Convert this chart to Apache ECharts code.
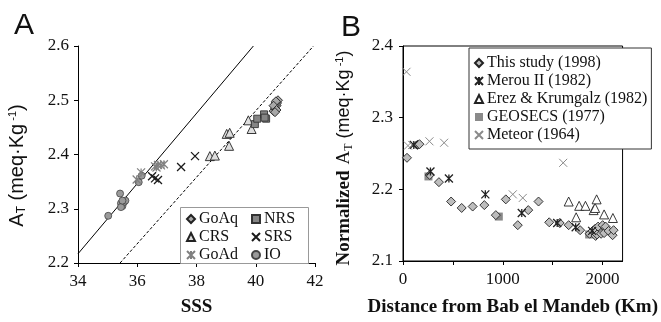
<!DOCTYPE html>
<html>
<head>
<meta charset="utf-8">
<script src="https://cdn.jsdelivr.net/npm/echarts@6/dist/echarts.min.js"></script>
<style>
html, body { margin: 0; padding: 0; background: #fff; }
#chart { width: 661px; height: 322px; }
</style>
</head>
<body>
<div id="chart"></div>
<script>
// ---- panel A : A_T against sea surface salinity ----
var goAq = [[40.6, 2.48], [40.65, 2.485], [40.7, 2.49], [40.72, 2.495], [40.75, 2.5], [40.68, 2.498], [40.6, 2.49], [40.7, 2.482], [40.65, 2.478]];
var nrs = [[39.97, 2.456], [40.05, 2.466], [40.28, 2.474], [40.35, 2.466], [40.3, 2.468], [40.65, 2.49], [40.7, 2.495]];
var crs = [[38.45, 2.397], [38.62, 2.398], [39.02, 2.438], [39.12, 2.44], [39.1, 2.416], [39.75, 2.463], [39.86, 2.447]];
var srs = [[36.5, 2.36], [36.6, 2.356], [36.7, 2.353], [37.48, 2.377], [37.95, 2.397]];
var goAd = [[35.98, 2.354], [36.13, 2.367], [36.6, 2.378], [36.65, 2.376], [36.7, 2.381], [36.8, 2.38], [36.9, 2.382]];
var io = [[35.02, 2.287], [35.42, 2.328], [35.45, 2.31], [35.5, 2.305], [35.55, 2.312], [35.6, 2.315], [35.45, 2.303], [35.5, 2.315], [36.05, 2.349], [36.15, 2.361]];
var solidLine = [[34, 2.217], [39.92, 2.6]];
var dashedLine = [[35.42, 2.2], [41.95, 2.6]];
var sssTicks = [34, 36, 38, 40, 42];
var atTicksA = [2.2, 2.3, 2.4, 2.5, 2.6];

// ---- panel B : normalized A_T against distance ----
var thisStudy = [[40, 2.244], [145, 2.262], [165, 2.263], [268, 2.22], [360, 2.21], [482, 2.183], [588, 2.174], [698, 2.176], [815, 2.178], [930, 2.164], [1030, 2.186], [1150, 2.15], [1255, 2.171], [1358, 2.183], [1465, 2.154], [1570, 2.153], [1660, 2.15], [1775, 2.143], [1870, 2.138], [1900, 2.142], [1925, 2.145], [1930, 2.135], [1945, 2.137], [1955, 2.148], [1985, 2.138], [2000, 2.15], [2015, 2.139], [2030, 2.148], [2060, 2.142], [2100, 2.136], [2110, 2.143]];
var merou = [[108, 2.262], [275, 2.225], [460, 2.215], [825, 2.193], [1190, 2.167], [1545, 2.153], [1730, 2.147], [1895, 2.142]];
var erez = [[1660, 2.183], [1735, 2.161], [1765, 2.177], [1828, 2.177], [1910, 2.171], [1925, 2.174], [1940, 2.186], [2015, 2.165], [2103, 2.16]];
var geosecs = [[255, 2.218], [960, 2.162], [1865, 2.137]];
var meteor = [[35, 2.364], [50, 2.261], [92, 2.262], [265, 2.267], [412, 2.265], [1100, 2.193], [1200, 2.188], [1605, 2.237]];
var distTicks = [0, 500, 1000, 1500, 2000];
var distLabels = [0, 1000, 2000];

var crossPath = 'path://M0,0L10,10M10,0L0,10';
var starPath = 'path://M0,0L10,10M10,0L0,10M5,0L5,10';

var serif = 'Liberation Serif';
var sans = 'Liberation Sans';

function dots(name, data, grid, symbol, size, fill, stroke, lw) {
    return {
        name: name,
        type: 'scatter',
        xAxisIndex: grid,
        yAxisIndex: grid,
        data: data,
        symbol: symbol,
        symbolSize: size,
        itemStyle: {color: fill, borderColor: stroke, borderWidth: lw, opacity: 1},
        emphasis: {disabled: true},
        z: 3
    };
}

function refLine(data, type) {
    return {
        type: 'line',
        xAxisIndex: 0,
        yAxisIndex: 0,
        data: data,
        symbol: 'none',
        silent: true,
        lineStyle: {color: '#000', width: 1, type: type},
        z: 2
    };
}

// tick labels go through rich text so the serif face is surely used
function numLabel(digits) {
    return function (v) {
        return '{n|' + (digits ? v.toFixed(digits) : String(v)) + '}';
    };
}
var numRich = {n: {fontFamily: serif, fontSize: 17, color: '#111'}};

var axisLine = {lineStyle: {color: '#000', width: 1}};

var option = {
    animation: false,
    backgroundColor: '#fff',
    textStyle: {fontFamily: serif},
    title: [
        {text: 'A', left: 9, top: 6, textStyle: {fontFamily: sans, fontSize: 30, fontWeight: 'normal', color: '#111'}},
        {text: 'B', left: 336, top: 8, textStyle: {fontFamily: sans, fontSize: 30, fontWeight: 'normal', color: '#111'}}
    ],
    grid: [
        {left: 78, top: 46, width: 237, height: 221},
        {left: 403, top: 46, width: 248, height: 221, show: true, borderColor: '#000', borderWidth: 1}
    ],
    xAxis: [
        {
            gridIndex: 0, type: 'value', min: 34, max: 42, interval: 2,
            name: 'SSS', nameLocation: 'middle', nameGap: 35,
            nameTextStyle: {fontFamily: serif, fontSize: 19, fontWeight: 'bold', color: '#111'},
            axisLine: axisLine,
            axisTick: {length: 4, lineStyle: {color: '#000', width: 1}, customValues: sssTicks},
            axisLabel: {margin: 10, customValues: sssTicks, formatter: numLabel(0), rich: numRich},
            splitLine: {show: false}
        },
        {
            gridIndex: 1, type: 'value', min: 0, max: 2200,
            name: 'Distance from Bab el Mandeb (Km)', nameLocation: 'middle', nameGap: 37,
            nameTextStyle: {fontFamily: serif, fontSize: 19, fontWeight: 'bold', color: '#111'},
            axisLine: axisLine,
            axisTick: {length: 4, lineStyle: {color: '#000', width: 1}, customValues: distTicks},
            axisLabel: {margin: 10, customValues: distLabels, formatter: numLabel(0), rich: numRich},
            splitLine: {show: false}
        }
    ],
    yAxis: [
        {
            gridIndex: 0, type: 'value', min: 2.2, max: 2.6,
            name: '{a|A}{s|T}{a| (meq·Kg}{p| -1}{a|)}', nameLocation: 'middle', nameGap: 50,
            nameTextStyle: {
                color: '#111',
                padding: [0, 22, 0, 0],
                rich: {
                    a: {fontFamily: sans, fontSize: 20, color: '#111'},
                    s: {fontFamily: sans, fontSize: 12, color: '#111', verticalAlign: 'bottom', padding: [9, 0, 0, 0]},
                    p: {fontFamily: sans, fontSize: 11, color: '#111', verticalAlign: 'top', padding: [0, 0, 7, 0]}
                }
            },
            axisLine: axisLine,
            axisTick: {length: 4, lineStyle: {color: '#000', width: 1}, customValues: atTicksA},
            axisLabel: {margin: 9, customValues: atTicksA, formatter: numLabel(1), rich: numRich},
            splitLine: {show: false}
        },
        {
            gridIndex: 1, type: 'value', min: 2.1, max: 2.4, interval: 0.1,
            name: '{b|Normalized}  {t|A}{s|T}{a| (meq·Kg}{p| -1}{a|)}', nameLocation: 'middle', nameGap: 48,
            nameTextStyle: {
                color: '#111',
                padding: [0, 9, 0, 0],
                rich: {
                    b: {fontFamily: serif, fontSize: 19, fontWeight: 'bold', color: '#111'},
                    t: {fontFamily: serif, fontSize: 19, color: '#111'},
                    a: {fontFamily: sans, fontSize: 18, color: '#111'},
                    s: {fontFamily: serif, fontSize: 12, color: '#111', verticalAlign: 'bottom', padding: [9, 0, 0, 0]},
                    p: {fontFamily: sans, fontSize: 11, color: '#111', verticalAlign: 'top', padding: [0, 0, 7, 0]}
                }
            },
            axisLine: axisLine,
            axisTick: {length: 4, lineStyle: {color: '#000', width: 1}},
            axisLabel: {margin: 10, formatter: numLabel(1), rich: numRich},
            splitLine: {show: false}
        }
    ],
    legend: [
        {
            data: ['GoAq', 'CRS', 'GoAd'], orient: 'vertical', left: 186, top: 211,
            itemWidth: 8, itemHeight: 8, itemGap: 2, padding: 0, selectedMode: false,
            textStyle: {fontFamily: serif, fontSize: 16, color: '#111', padding: [0, 0, 0, -1]}
        },
        {
            data: ['NRS', 'SRS', 'IO'], orient: 'vertical', left: 251, top: 211,
            itemWidth: 8, itemHeight: 8, itemGap: 2, padding: 0, selectedMode: false,
            textStyle: {fontFamily: serif, fontSize: 16, color: '#111', padding: [0, 0, 0, -1]}
        },
        {
            data: ['This study (1998)', 'Merou II (1982)', 'Erez & Krumgalz (1982)', 'GEOSECS (1977)', 'Meteor (1964)'],
            orient: 'vertical', left: 469, top: 48,
            itemWidth: 8, itemHeight: 8, itemGap: 2, padding: [7, 4, 6, 5], selectedMode: false,
            borderColor: '#333', borderWidth: 1, backgroundColor: '#fff',
            textStyle: {fontFamily: serif, fontSize: 16, color: '#111', padding: [0, 0, 0, -1]}
        }
    ],
    graphic: [
        {type: 'rect', left: 180, top: 207, shape: {width: 128, height: 56}, style: {fill: '#fff', stroke: '#999', lineWidth: 1}, z: 1}
    ],
    series: [
        refLine(solidLine, 'solid'),
        refLine(dashedLine, [3, 2]),
        dots('IO', io, 0, 'circle', 7, '#9a9a9a', '#444', 0.8),
        dots('GoAd', goAd, 0, starPath, 8, '#808080', '#808080', 1.2),
        dots('SRS', srs, 0, crossPath, 8, '#1a1a1a', '#1a1a1a', 1.3),
        dots('CRS', crs, 0, 'triangle', 9, '#dedede', '#222', 0.9),
        dots('NRS', nrs, 0, 'rect', 7, '#858585', '#333', 0.9),
        dots('GoAq', goAq, 0, 'diamond', 9, '#a8a8a8', '#222', 0.9),

        dots('Meteor (1964)', meteor, 1, crossPath, 8, '#8a8a8a', '#8a8a8a', 1),
        dots('Erez & Krumgalz (1982)', erez, 1, 'triangle', 9, '#fff', '#222', 0.9),
        dots('GEOSECS (1977)', geosecs, 1, 'rect', 8, '#8a8a8a', '#8a8a8a', 0),
        dots('This study (1998)', thisStudy, 1, 'diamond', 9, '#bdbdbd', '#222', 0.9),
        dots('Merou II (1982)', merou, 1, starPath, 8, '#222', '#222', 1.3)
    ]
};

var chart = echarts.init(document.getElementById('chart'));
chart.setOption(option);
</script>
</body>
</html>
